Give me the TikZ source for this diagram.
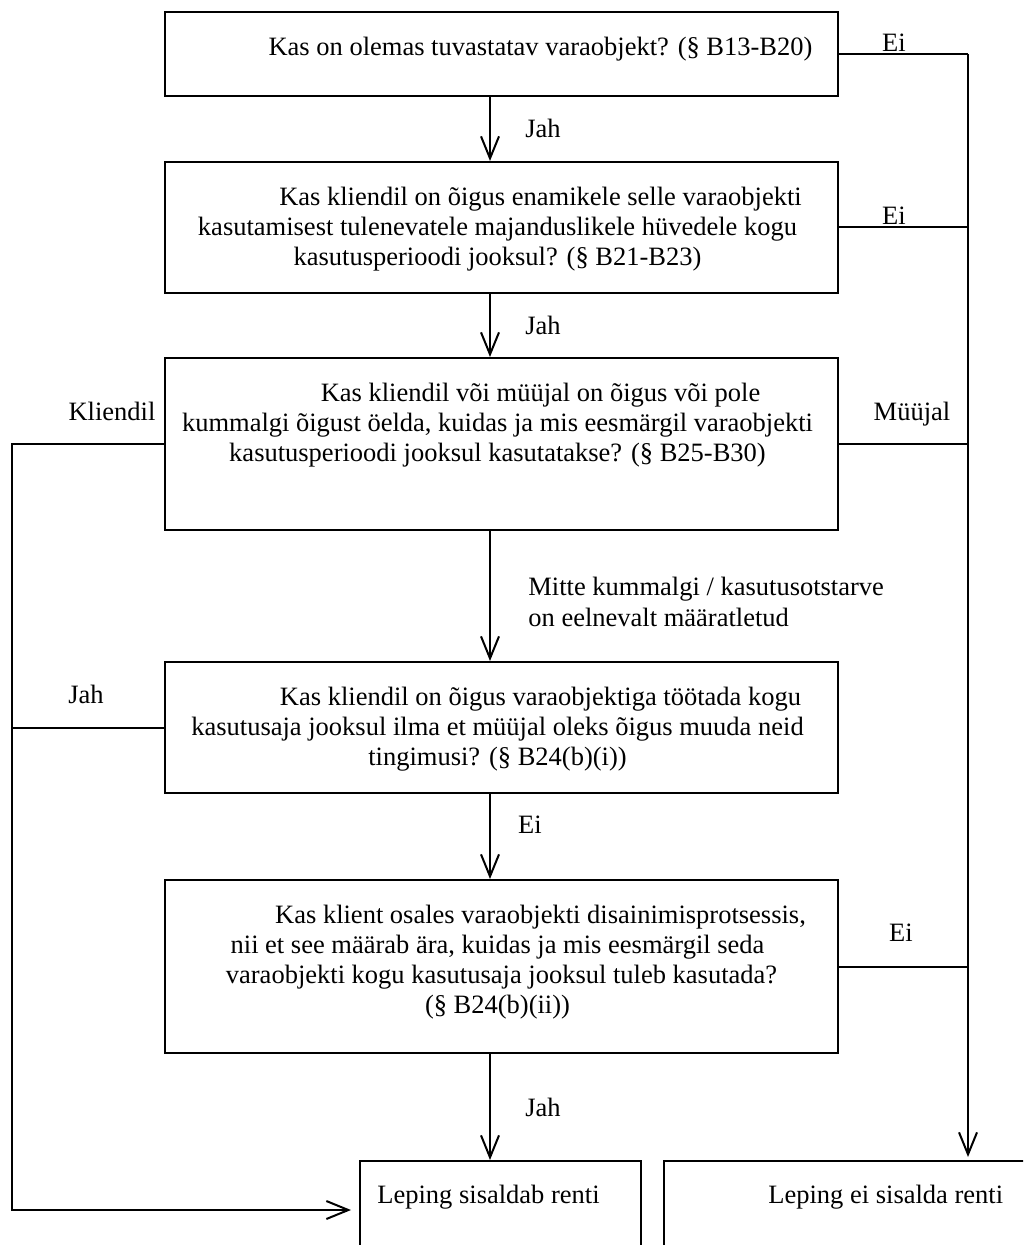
\documentclass[tikz,border=0pt]{standalone}
\usepackage{fontspec}
\setmainfont{Liberation Serif}
\usetikzlibrary{positioning}
\usetikzlibrary{arrows.meta}

\tikzset{
	qbox/.style={draw, line width=1pt, inner sep=0pt, minimum width=336.5pt},
	qtext/.style={align=center, inner sep=0pt, xshift=-2pt, font=\fontsize{13.25}{15}\selectfont},
	lbl/.style={inner sep=0pt, anchor=base, font=\fontsize{13.25}{15}\selectfont},
	flow/.style={line width=1pt, -{Straight Barb[length=11pt, width=9pt, line width=1pt]}},
	link/.style={line width=1pt},
}

\begin{document}
\begin{tikzpicture}[x=0.5pt, y=-0.5pt, node distance=13pt]

	\def\ind{\hspace*{43pt}}
	\clip (0,0) rectangle (1023,1245);

	% decision boxes
	\node[qbox, minimum height=42pt]   (q1) at (501.5,54) {};
	\node[qbox, minimum height=65.5pt] (q2) at (501.5,227.5) {};
	\node[qbox, minimum height=86pt]   (q3) at (501.5,444) {};
	\node[qbox, minimum height=65.5pt] (q4) at (501.5,727.5) {};
	\node[qbox, minimum height=86.5pt] (q5) at (501.5,966.5) {};
	% result boxes
	\node[qbox, minimum width=140.5pt, minimum height=49pt] (q6) at (500.5,1210) {};
	\node[qbox, minimum width=198pt, minimum height=49pt]   (q7) at (862,1210) {};

	% questions
	\node[qtext, below=13pt of q1.north] (t1) {\ind Kas on olemas tuvastatav varaobjekt? (§ B13-B20)};
	\node[qtext, below=13pt of q2.north] (t2) {\ind Kas kliendil on õigus enamikele selle varaobjekti\\
		kasutamisest tulenevatele majanduslikele hüvedele kogu\\
		kasutusperioodi jooksul? (§ B21-B23)};
	\node[qtext, below=13pt of q3.north] (t3) {\ind Kas kliendil või müüjal on õigus või pole\\
		kummalgi õigust öelda, kuidas ja mis eesmärgil varaobjekti\\
		kasutusperioodi jooksul kasutatakse? (§ B25-B30)};
	\node[qtext, below=13pt of q4.north] (t4) {\ind Kas kliendil on õigus varaobjektiga töötada kogu\\
		kasutusaja jooksul ilma et müüjal oleks õigus muuda neid\\
		tingimusi? (§ B24(b)(i))};
	\node[qtext, below=13pt of q5.north] (t5) {\ind Kas klient osales varaobjekti disainimisprotsessis,\\
		nii et see määrab ära, kuidas ja mis eesmärgil seda\\
		\hspace*{4pt}varaobjekti kogu kasutusaja jooksul tuleb kasutada?\\
		(§ B24(b)(ii))};
	\node[lbl, anchor=base west] (t6) at (377,1203) {Leping sisaldab renti};
	\node[lbl, anchor=base west] (t7) at (768,1203) {Leping ei sisalda renti};

	% trunks
	\coordinate (ax) at (490,0);
	\coordinate (rx) at (968,0);
	\coordinate (lx) at (12,0);

	\foreach \a/\b in {q1/q2, q2/q3, q3/q4, q4/q5, q5/q6}
		\draw[flow] (\a.south -| ax) -- (\b.north -| ax);

	\foreach \a in {q1, q2, q3, q5}
		\draw[link] (\a.east) -- (\a.east -| rx);
	\draw[flow, shorten >=1.5pt] (q1.east -| rx) -- (q7.north -| rx);

	\draw[link] (q4.west) -- (q4.west -| lx);
	\draw[flow, shorten >=4pt] (q3.west) -- (q3.west -| lx) -- (q6.west -| lx) -- (q6.west);

	% answers
	\node[lbl] (e1) at (894,52) {Ei};
	\node[lbl] (j1) at (543,138) {Jah};
	\node[lbl] (e2) at (894,225) {Ei};
	\node[lbl] (j2) at (543,335) {Jah};
	\node[lbl] (kl) at (112,421) {Kliendil};
	\node[lbl] (mu) at (912,421) {Müüjal};
	\node[lbl, anchor=base west] (m1) at (528,595) {Mitte kummalgi / kasutusotstarve};
	\node[lbl, anchor=base west] (m2) at (528,626) {on eelnevalt määratletud};
	\node[lbl] (j3) at (86,703) {Jah};
	\node[lbl] (e3) at (530,833) {Ei};
	\node[lbl] (e4) at (901,941) {Ei};
	\node[lbl] (j4) at (543,1116) {Jah};

\end{tikzpicture}
\end{document}
